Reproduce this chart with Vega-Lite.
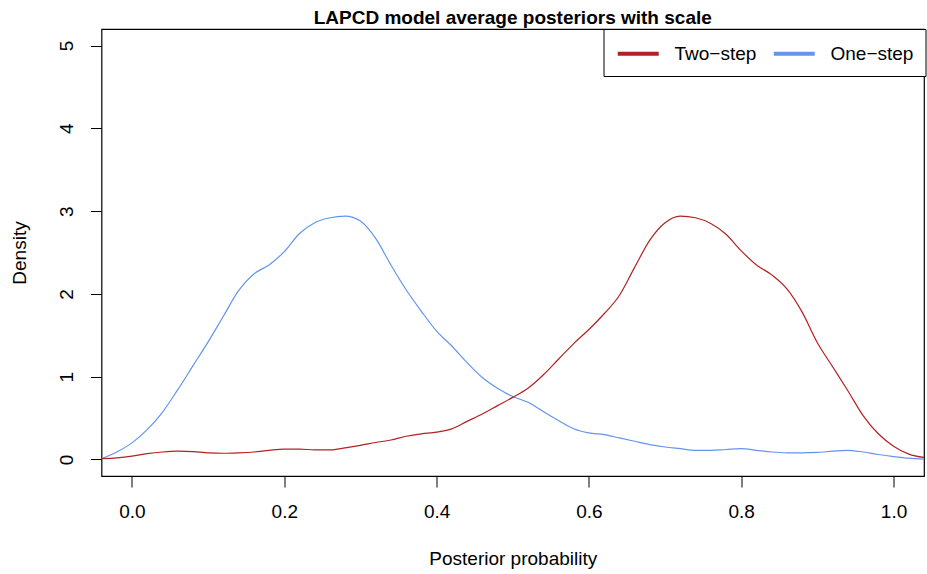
{
  "$schema": "https://vega.github.io/schema/vega-lite/v6.json",
  "width": 822.5,
  "height": 447,
  "autosize": {"type": "none"},
  "padding": {"left": 101.5, "top": 29, "right": 3.5, "bottom": 98},
  "background": "white",
  "title": {
    "text": "LAPCD model average posteriors with scale",
    "font": "Liberation Sans",
    "fontSize": 19,
    "fontWeight": "bold",
    "color": "black",
    "anchor": "middle",
    "frame": "group",
    "baseline": "alphabetic",
    "offset": 4,
    "dy": 18
  },
  "config": {
    "view": {"stroke": "black", "strokeWidth": 1.2},
    "font": "Liberation Sans",
    "axis": {
      "domain": false,
      "grid": false,
      "tickColor": "black",
      "tickSize": 11,
      "tickWidth": 1,
      "labelFont": "Liberation Sans",
      "labelFontSize": 19,
      "labelColor": "black",
      "titleFont": "Liberation Sans",
      "titleFontSize": 19,
      "titleFontWeight": "normal",
      "titleColor": "black"
    }
  },
  "datasets": {
    "curves": [
      {"x": -0.04, "y": 0.01, "series": "One−step"},
      {"x": -0.02, "y": 0.09, "series": "One−step"},
      {"x": 0.0, "y": 0.2, "series": "One−step"},
      {"x": 0.02, "y": 0.36, "series": "One−step"},
      {"x": 0.04, "y": 0.57, "series": "One−step"},
      {"x": 0.06, "y": 0.84, "series": "One−step"},
      {"x": 0.08, "y": 1.13, "series": "One−step"},
      {"x": 0.1, "y": 1.42, "series": "One−step"},
      {"x": 0.12, "y": 1.73, "series": "One−step"},
      {"x": 0.14, "y": 2.04, "series": "One−step"},
      {"x": 0.16, "y": 2.24, "series": "One−step"},
      {"x": 0.18, "y": 2.35, "series": "One−step"},
      {"x": 0.2, "y": 2.51, "series": "One−step"},
      {"x": 0.22, "y": 2.73, "series": "One−step"},
      {"x": 0.24, "y": 2.86, "series": "One−step"},
      {"x": 0.26, "y": 2.92, "series": "One−step"},
      {"x": 0.28, "y": 2.94, "series": "One−step"},
      {"x": 0.3, "y": 2.88, "series": "One−step"},
      {"x": 0.32, "y": 2.67, "series": "One−step"},
      {"x": 0.34, "y": 2.35, "series": "One−step"},
      {"x": 0.36, "y": 2.05, "series": "One−step"},
      {"x": 0.38, "y": 1.79, "series": "One−step"},
      {"x": 0.4, "y": 1.55, "series": "One−step"},
      {"x": 0.42, "y": 1.37, "series": "One−step"},
      {"x": 0.44, "y": 1.17, "series": "One−step"},
      {"x": 0.46, "y": 0.99, "series": "One−step"},
      {"x": 0.48, "y": 0.86, "series": "One−step"},
      {"x": 0.5, "y": 0.76, "series": "One−step"},
      {"x": 0.52, "y": 0.69, "series": "One−step"},
      {"x": 0.54, "y": 0.58, "series": "One−step"},
      {"x": 0.56, "y": 0.47, "series": "One−step"},
      {"x": 0.58, "y": 0.37, "series": "One−step"},
      {"x": 0.6, "y": 0.32, "series": "One−step"},
      {"x": 0.62, "y": 0.3, "series": "One−step"},
      {"x": 0.64, "y": 0.26, "series": "One−step"},
      {"x": 0.66, "y": 0.22, "series": "One−step"},
      {"x": 0.68, "y": 0.18, "series": "One−step"},
      {"x": 0.7, "y": 0.15, "series": "One−step"},
      {"x": 0.72, "y": 0.13, "series": "One−step"},
      {"x": 0.74, "y": 0.11, "series": "One−step"},
      {"x": 0.76, "y": 0.11, "series": "One−step"},
      {"x": 0.78, "y": 0.12, "series": "One−step"},
      {"x": 0.8, "y": 0.13, "series": "One−step"},
      {"x": 0.82, "y": 0.11, "series": "One−step"},
      {"x": 0.84, "y": 0.09, "series": "One−step"},
      {"x": 0.86, "y": 0.08, "series": "One−step"},
      {"x": 0.88, "y": 0.08, "series": "One−step"},
      {"x": 0.9, "y": 0.085, "series": "One−step"},
      {"x": 0.92, "y": 0.1, "series": "One−step"},
      {"x": 0.94, "y": 0.11, "series": "One−step"},
      {"x": 0.96, "y": 0.09, "series": "One−step"},
      {"x": 0.98, "y": 0.06, "series": "One−step"},
      {"x": 1.0, "y": 0.035, "series": "One−step"},
      {"x": 1.02, "y": 0.015, "series": "One−step"},
      {"x": 1.04, "y": 0.005, "series": "One−step"},
      {"x": -0.04, "y": 0.01, "series": "Two−step"},
      {"x": -0.02, "y": 0.02, "series": "Two−step"},
      {"x": 0.0, "y": 0.04, "series": "Two−step"},
      {"x": 0.02, "y": 0.07, "series": "Two−step"},
      {"x": 0.04, "y": 0.09, "series": "Two−step"},
      {"x": 0.06, "y": 0.1, "series": "Two−step"},
      {"x": 0.08, "y": 0.095, "series": "Two−step"},
      {"x": 0.1, "y": 0.08, "series": "Two−step"},
      {"x": 0.12, "y": 0.075, "series": "Two−step"},
      {"x": 0.14, "y": 0.08, "series": "Two−step"},
      {"x": 0.16, "y": 0.09, "series": "Two−step"},
      {"x": 0.18, "y": 0.11, "series": "Two−step"},
      {"x": 0.2, "y": 0.125, "series": "Two−step"},
      {"x": 0.22, "y": 0.125, "series": "Two−step"},
      {"x": 0.24, "y": 0.115, "series": "Two−step"},
      {"x": 0.26, "y": 0.115, "series": "Two−step"},
      {"x": 0.28, "y": 0.14, "series": "Two−step"},
      {"x": 0.3, "y": 0.17, "series": "Two−step"},
      {"x": 0.32, "y": 0.205, "series": "Two−step"},
      {"x": 0.34, "y": 0.235, "series": "Two−step"},
      {"x": 0.36, "y": 0.28, "series": "Two−step"},
      {"x": 0.38, "y": 0.31, "series": "Two−step"},
      {"x": 0.4, "y": 0.33, "series": "Two−step"},
      {"x": 0.42, "y": 0.37, "series": "Two−step"},
      {"x": 0.44, "y": 0.46, "series": "Two−step"},
      {"x": 0.46, "y": 0.55, "series": "Two−step"},
      {"x": 0.48, "y": 0.65, "series": "Two−step"},
      {"x": 0.5, "y": 0.75, "series": "Two−step"},
      {"x": 0.52, "y": 0.86, "series": "Two−step"},
      {"x": 0.54, "y": 1.02, "series": "Two−step"},
      {"x": 0.56, "y": 1.21, "series": "Two−step"},
      {"x": 0.58, "y": 1.4, "series": "Two−step"},
      {"x": 0.6, "y": 1.57, "series": "Two−step"},
      {"x": 0.62, "y": 1.76, "series": "Two−step"},
      {"x": 0.64, "y": 1.98, "series": "Two−step"},
      {"x": 0.66, "y": 2.32, "series": "Two−step"},
      {"x": 0.68, "y": 2.65, "series": "Two−step"},
      {"x": 0.7, "y": 2.86, "series": "Two−step"},
      {"x": 0.72, "y": 2.94, "series": "Two−step"},
      {"x": 0.74, "y": 2.92, "series": "Two−step"},
      {"x": 0.76, "y": 2.85, "series": "Two−step"},
      {"x": 0.78, "y": 2.72, "series": "Two−step"},
      {"x": 0.8, "y": 2.52, "series": "Two−step"},
      {"x": 0.82, "y": 2.35, "series": "Two−step"},
      {"x": 0.84, "y": 2.23, "series": "Two−step"},
      {"x": 0.86, "y": 2.06, "series": "Two−step"},
      {"x": 0.88, "y": 1.78, "series": "Two−step"},
      {"x": 0.9, "y": 1.41, "series": "Two−step"},
      {"x": 0.92, "y": 1.12, "series": "Two−step"},
      {"x": 0.94, "y": 0.83, "series": "Two−step"},
      {"x": 0.96, "y": 0.53, "series": "Two−step"},
      {"x": 0.98, "y": 0.31, "series": "Two−step"},
      {"x": 1.0, "y": 0.16, "series": "Two−step"},
      {"x": 1.02, "y": 0.065, "series": "Two−step"},
      {"x": 1.04, "y": 0.024, "series": "Two−step"}
    ]
  },
  "layer": [
    {
      "mark": {"type": "rule", "color": "#bebebe", "strokeWidth": 1},
      "encoding": {
        "y": {"datum": 0, "type": "quantitative", "scale": {"domain": [-0.2, 5.2], "nice": false, "zero": false}}
      }
    },
    {
      "data": {"name": "curves"},
      "mark": {"type": "line", "interpolate": "monotone", "strokeWidth": 1.2, "clip": true},
      "encoding": {
        "x": {
          "field": "x",
          "type": "quantitative",
          "scale": {"domain": [-0.04, 1.04], "nice": false, "zero": false},
          "axis": {
            "title": "Posterior probability",
            "values": [0, 0.2, 0.4, 0.6, 0.8, 1.0],
            "format": ".1f",
            "labelPadding": 15,
            "titlePadding": 28,
            "labelFlush": false
          }
        },
        "y": {
          "field": "y",
          "type": "quantitative",
          "scale": {"domain": [-0.2, 5.2], "nice": false, "zero": false},
          "axis": {
            "title": "Density",
            "values": [0, 1, 2, 3, 4, 5],
            "format": "d",
            "labelAngle": -90,
            "labelAlign": "center",
            "labelBaseline": "bottom",
            "labelPadding": 14,
            "titlePadding": 28,
            "labelFlush": false
          }
        },
        "color": {
          "field": "series",
          "type": "nominal",
          "scale": {"domain": ["Two−step", "One−step"], "range": ["#b22222", "#6495ed"]},
          "legend": {
            "title": null,
            "orient": "none",
            "legendX": 502,
            "legendY": 0,
            "direction": "horizontal",
            "symbolType": "M-1,0H3",
            "symbolSize": 420,
            "symbolStrokeWidth": 4,
            "labelFont": "Liberation Sans",
            "labelFontSize": 19,
            "labelColor": "black",
            "labelOffset": 34,
            "columnPadding": 9,
            "padding": 12,
            "strokeColor": "black",
            "fillColor": "white",
            "labelLimit": 200
          }
        },
        "detail": {"field": "series"}
      }
    }
  ]
}
